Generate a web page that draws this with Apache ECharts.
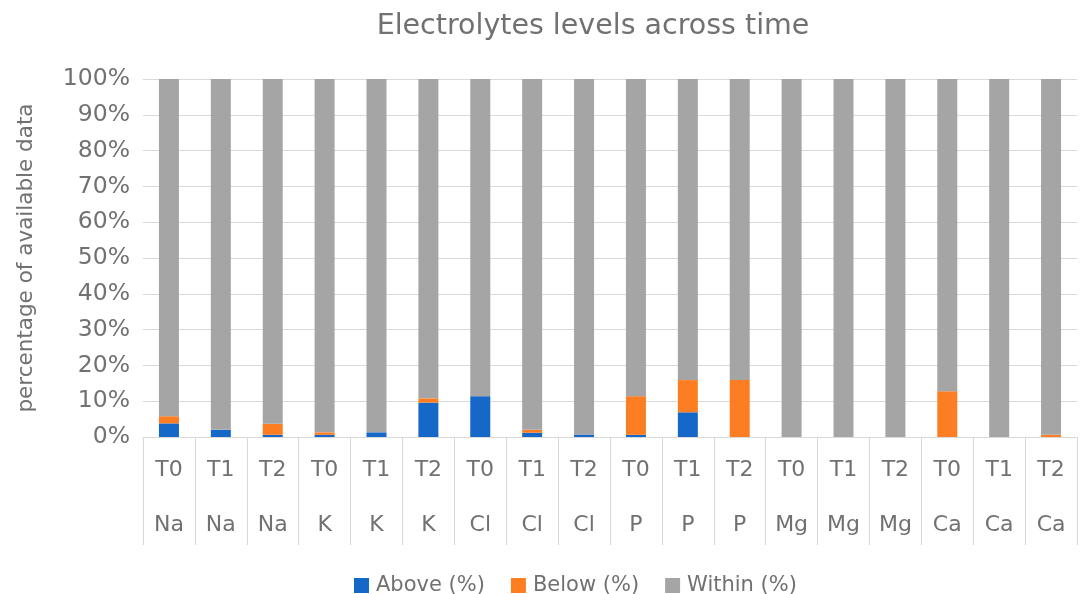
<!DOCTYPE html>
<html>
<head>
<meta charset="utf-8">
<script src="https://cdn.jsdelivr.net/npm/echarts@6/dist/echarts.min.js"></script>
<style>html,body{margin:0;padding:0;background:#fff}#c{width:1083px;height:594px}</style>
</head>
<body>
<div id="c"></div>
<script>
var times = ['T0','T1','T2','T0','T1','T2','T0','T1','T2','T0','T1','T2','T0','T1','T2','T0','T1','T2'];
var elements = ['Na','Na','Na','K','K','K','Cl','Cl','Cl','P','P','P','Mg','Mg','Mg','Ca','Ca','Ca'];
var above = [3.8, 2.0, 0.6, 0.6, 1.3, 9.6, 11.4, 1.2, 0.7, 0.6, 6.9, 0, 0, 0, 0, 0, 0, 0];
var below = [2.0, 0, 3.1, 0.7, 0, 1.2, 0, 0.8, 0, 10.8, 9.0, 15.9, 0, 0, 0, 12.8, 0, 0.6];
var within = [94.2, 98.0, 96.3, 98.7, 98.7, 89.2, 88.6, 98.0, 99.3, 88.6, 84.1, 84.1, 100, 100, 100, 87.2, 100, 99.4];
var yTicks = [0,10,20,30,40,50,60,70,80,90,100];

var categories = times.map(function(t,i){ return t + '\n' + elements[i]; });
var txt = '#717171';
var font = 'DejaVu Sans';
var chart = echarts.init(document.getElementById('c'));
chart.setOption({
  animation: false,
  textStyle: {fontFamily: font},
  title: {
    text: 'Electrolytes levels across time',
    left: 588, top: 7, textAlign: 'center',
    textStyle: {color: txt, fontSize: 28.5, fontWeight: 'normal', fontFamily: font}
  },
  legend: {
    top: 570, left: 349,
    icon: 'rect', itemWidth: 15, itemHeight: 15, itemGap: 26,
    textStyle: {color: txt, fontSize: 21, fontFamily: font, padding: [0, 0, 0, 2]},
    data: ['Above (%)', 'Below (%)', 'Within (%)']
  },
  grid: {left: 143, right: 6, top: 79, bottom: 157, containLabel: false, outerBoundsMode: 'none'},
  xAxis: {
    type: 'category',
    data: categories,
    axisLine: {lineStyle: {color: '#d9d9d9', width: 1}},
    axisTick: {show: true, interval: 0, length: 108, lineStyle: {color: '#d9d9d9'}},
    axisLabel: {
      interval: 0, margin: 6, lineHeight: 55,
      color: txt, fontSize: 22, fontFamily: font
    }
  },
  yAxis: {
    type: 'value', min: 0, max: 100, interval: 10,
    name: 'percentage of available data',
    nameLocation: 'middle', nameGap: 106, nameRotate: 90,
    nameTextStyle: {color: txt, fontSize: 21.5, fontFamily: font},
    axisLine: {show: false}, axisTick: {show: false},
    axisLabel: {
      margin: 13, color: txt, fontSize: 23.5, fontFamily: font,
      formatter: function(v){ return yTicks.indexOf(v) >= 0 ? v + '%' : ''; }
    },
    splitLine: {lineStyle: {color: '#d9d9d9', width: 1}}
  },
  series: [
    {name: 'Above (%)', type: 'bar', stack: 's', data: above, barWidth: 20, itemStyle: {color: '#1567c8'}},
    {name: 'Below (%)', type: 'bar', stack: 's', data: below, barWidth: 20, itemStyle: {color: '#fd7e22'}},
    {name: 'Within (%)', type: 'bar', stack: 's', data: within, barWidth: 20, itemStyle: {color: '#a5a5a5'}}
  ]
});
</script>
</body>
</html>
